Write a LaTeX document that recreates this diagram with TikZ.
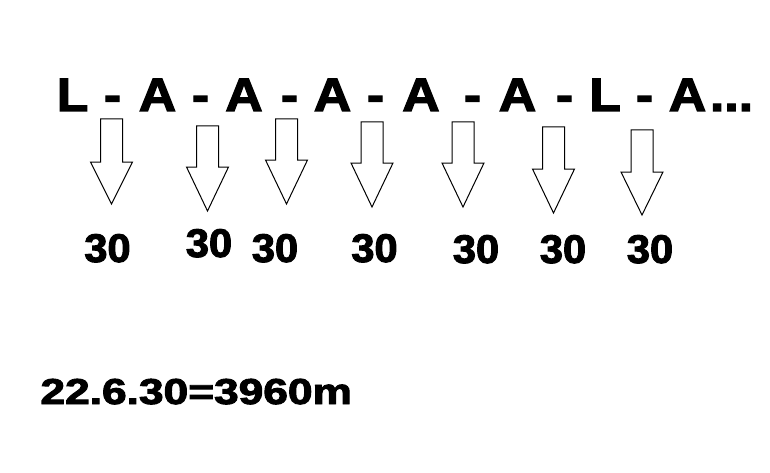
\documentclass[tikz,border=0pt]{standalone}
\usepackage{fontspec}
\usepackage{graphicx}
\setmainfont{Liberation Sans}
\newfontfamily\heavyfont{Liberation Sans Bold}[FakeBold=2.5]
\newcommand\topglyph[1]{\scalebox{1.10}[1]{\fontsize{47}{50}\heavyfont #1}}
\newcommand\numglyph[1]{\scalebox{1.04}[1]{\fontsize{40}{44}\heavyfont #1}}
\newcommand\formglyph[1]{\scalebox{1.23}[1]{\fontsize{36}{40}\heavyfont #1}}
\begin{document}
\begin{tikzpicture}[x=1pt,y=1pt,
  glyph/.style={inner sep=0pt,outer sep=0pt,anchor=base},
  hollowarrow/.style={draw=black,line width=1pt,fill=white,line join=miter}]
\useasboundingbox (0,0) rectangle (770,472);
\fill[white] (0,0) rectangle (770,472);
% top sequence
\foreach \x/\t [count=\i] in {72.5/L,112.5/-,157.5/A,200.5/-,244/A,289.5/-,332.5/A,375.5/-,421/A,472.5/-,517.5/A,564.5/-,605/L,644.5/-,687.5/A}
  \node[glyph] (t\i) at (\x,361) {\topglyph{\t}};
\node[glyph] (tdots) at (731.5,361) {\topglyph{.\kern0pt.\kern0pt.}};
% arrows: shaft centre / top / head start / tip (image y, downwards)
\foreach \c/\tp/\hd/\tip [count=\i] in {111.5/119/162/204, 207.5/126/167/211, 286.5/119/160/204, 372/122/163/207, 463/122/163/207, 553.5/127/169/213, 642/130/172/215}
  \draw[hollowarrow] (\c-11,472-\tp) -- (\c+11,472-\tp) -- (\c+11,472-\hd) -- (\c+21,472-\hd)
     -- (\c,472-\tip) -- (\c-21,472-\hd) -- (\c-11,472-\hd) -- cycle;
% numbers
\foreach \x/\b [count=\i] in {107.5/262, 209/257, 275/262, 374.5/262, 476/263, 563/263, 650/263}
  \node[glyph] (n\i) at (\x,472-\b) {\numglyph{30}};
% formula
\node[glyph,anchor=base west] (f) at (40.5,472-404) {\formglyph{22.6.30=3960m}};
\end{tikzpicture}
\end{document}
